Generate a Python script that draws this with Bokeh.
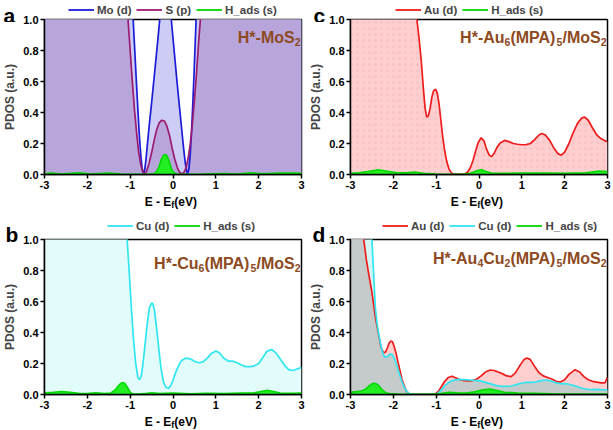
import numpy as np
from bokeh.plotting import figure
from bokeh.models import Range1d, FixedTicker, Legend, LegendItem, Label
from bokeh.layouts import column, row
from bokeh.embed import file_html
from bokeh.resources import INLINE

# ---------------- data ----------------
x_ticks = [-3, -2, -1, 0, 1, 2, 3]
y_ticks = [0.0, 0.2, 0.4, 0.6, 0.8, 1.0]

# panel a : H*-MoS2
x_mo_a = [-3.0, -1.3, -1.05, -0.93, -0.9, -0.87, -0.84, -0.81, -0.78, -0.75, -0.72, -0.69, -0.66, -0.63, -0.6,
          -0.55, -0.5, -0.45, -0.4, -0.35, -0.31, -0.24, -0.17, -0.1, -0.04, 0.0, 0.05, 0.1, 0.15, 0.2, 0.24,
          0.28, 0.31, 0.34, 0.37, 0.4, 0.43, 0.46, 0.49, 0.52, 0.55, 0.65, 1.0, 3.0]
mo_d_a = [3.0, 2.0, 1.4, 1.0, 0.84, 0.68, 0.52, 0.37, 0.23, 0.12, 0.04, 0.005, 0.03, 0.1, 0.19, 0.33, 0.46, 0.6,
          0.74, 0.88, 1.0, 1.2, 1.3, 1.2, 1.0, 0.88, 0.73, 0.58, 0.44, 0.3, 0.19, 0.09, 0.03, 0.005, 0.03, 0.12,
          0.26, 0.44, 0.64, 0.86, 1.08, 1.6, 2.2, 3.0]
x_s_a = [-3.0, -1.3, -1.1, -1.05, -1.0, -0.95, -0.9, -0.85, -0.8, -0.75, -0.7, -0.66, -0.62, -0.56, -0.5, -0.44,
         -0.38, -0.32, -0.26, -0.2, -0.14, -0.08, -0.02, 0.04, 0.1, 0.15, 0.2, 0.25, 0.3, 0.35, 0.4, 0.45, 0.5,
         0.55, 0.6, 0.64, 0.7, 1.0, 3.0]
s_p_a = [3.0, 2.0, 1.2, 1.0, 0.8, 0.6, 0.42, 0.27, 0.14, 0.06, 0.015, 0.005, 0.02, 0.07, 0.14, 0.22, 0.29, 0.335,
         0.35, 0.345, 0.31, 0.25, 0.17, 0.1, 0.045, 0.015, 0.005, 0.01, 0.04, 0.1, 0.19, 0.32, 0.48, 0.66, 0.86,
         1.0, 1.3, 2.2, 3.0]
x_h_a = [-3.0, -2.85, -2.6, -2.2, -1.9, -1.5, -1.2, -0.9, -0.6, -0.45, -0.38, -0.32, -0.27, -0.22, -0.18, -0.14,
         -0.09, -0.04, 0.02, 0.1, 0.3, 0.7, 1.2, 1.5, 1.8, 2.1, 2.5, 2.8, 3.0]
h_s_a = [0.005, 0.01, 0.004, 0.012, 0.004, 0.01, 0.004, 0.002, 0.001, 0.005, 0.02, 0.055, 0.1, 0.125, 0.13, 0.12,
         0.085, 0.04, 0.012, 0.003, 0.002, 0.003, 0.006, 0.004, 0.012, 0.005, 0.009, 0.01, 0.008]

# panel c : H*-Au6(MPA)5/MoS2
x_au_c = [-3.0, -2.0, -1.5, -1.45, -1.4, -1.35, -1.3, -1.26, -1.22, -1.18, -1.14, -1.1, -1.06, -1.01, -0.97,
          -0.93, -0.89, -0.85, -0.8, -0.75, -0.7, -0.65, -0.6, -0.5, -0.4, -0.32, -0.26, -0.2, -0.14, -0.08,
          -0.02, 0.05, 0.12, 0.18, 0.24, 0.29, 0.35, 0.42, 0.5, 0.6, 0.7, 0.8, 0.9, 1.0, 1.1, 1.2, 1.3, 1.4,
          1.47, 1.55, 1.65, 1.75, 1.85, 1.92, 2.0, 2.1, 2.2, 2.3, 2.4, 2.47, 2.55, 2.65, 2.75, 2.85, 3.0]
au_d_c = [3.0, 2.5, 1.15, 1.0, 0.88, 0.74, 0.56, 0.43, 0.37, 0.38, 0.43, 0.5, 0.54, 0.55, 0.52, 0.45, 0.35,
          0.25, 0.15, 0.08, 0.035, 0.012, 0.003, 0.0, 0.0, 0.005, 0.018, 0.045, 0.09, 0.15, 0.205, 0.237, 0.215,
          0.16, 0.125, 0.115, 0.135, 0.175, 0.205, 0.22, 0.212, 0.2, 0.195, 0.192, 0.193, 0.2, 0.225, 0.255,
          0.265, 0.255, 0.22, 0.17, 0.133, 0.125, 0.145, 0.2, 0.27, 0.33, 0.365, 0.37, 0.35, 0.3, 0.255, 0.23, 0.21]
x_h_c = [-3.0, -2.8, -2.6, -2.35, -2.1, -1.9, -1.7, -1.5, -1.3, -1.0, -0.7, -0.4, -0.2, -0.05, 0.05, 0.15, 0.3,
         0.6, 1.0, 1.5, 2.0, 2.5, 2.8, 3.0]
h_s_c = [0.008, 0.012, 0.02, 0.03, 0.02, 0.012, 0.012, 0.016, 0.008, 0.004, 0.002, 0.001, 0.008, 0.025, 0.032,
         0.022, 0.008, 0.008, 0.01, 0.01, 0.008, 0.012, 0.022, 0.02]

# panel b : H*-Cu6(MPA)5/MoS2
x_cu_b = [-3.0, -2.0, -1.2, -1.07, -1.02, -0.97, -0.92, -0.87, -0.82, -0.78, -0.74, -0.7, -0.65, -0.6, -0.55,
          -0.5, -0.47, -0.43, -0.38, -0.33, -0.28, -0.22, -0.16, -0.1, -0.05, 0.0, 0.06, 0.12, 0.2, 0.3, 0.4,
          0.5, 0.6, 0.7, 0.8, 0.9, 1.0, 1.08, 1.18, 1.3, 1.4, 1.5, 1.6, 1.7, 1.8, 1.9, 2.0, 2.1, 2.2, 2.3, 2.4,
          2.5, 2.6, 2.7, 2.8, 2.9, 3.0]
cu_d_b = [3.0, 2.5, 1.25, 1.0, 0.78, 0.55, 0.35, 0.2, 0.11, 0.095, 0.12, 0.2, 0.33, 0.46, 0.56, 0.59, 0.585,
          0.54, 0.42, 0.29, 0.17, 0.08, 0.045, 0.04, 0.06, 0.09, 0.14, 0.18, 0.22, 0.235, 0.23, 0.215, 0.205,
          0.21, 0.235, 0.265, 0.28, 0.27, 0.235, 0.215, 0.215, 0.205, 0.19, 0.18, 0.18, 0.185, 0.2, 0.24, 0.28,
          0.29, 0.27, 0.23, 0.19, 0.16, 0.155, 0.165, 0.175]
x_h_b = [-3.0, -2.8, -2.6, -2.4, -2.2, -2.0, -1.8, -1.6, -1.45, -1.35, -1.28, -1.22, -1.17, -1.12, -1.06, -1.0,
         -0.95, -0.8, -0.6, -0.5, -0.3, 0.0, 0.4, 0.8, 1.2, 1.6, 1.9, 2.05, 2.2, 2.35, 2.5, 2.8, 3.0]
h_s_b = [0.012, 0.015, 0.02, 0.015, 0.008, 0.006, 0.012, 0.006, 0.01, 0.03, 0.055, 0.072, 0.078, 0.07, 0.045,
         0.015, 0.005, 0.004, 0.008, 0.012, 0.006, 0.01, 0.005, 0.008, 0.006, 0.01, 0.012, 0.02, 0.027, 0.02,
         0.01, 0.008, 0.01]

# panel d : H*-Au4Cu2(MPA)5/MoS2
x_d = [-3.0, -2.85, -2.73, -2.69, -2.63, -2.57, -2.5, -2.46, -2.42, -2.38, -2.34, -2.3, -2.26, -2.22, -2.18,
       -2.14, -2.1, -2.06, -2.02, -1.98, -1.94, -1.9, -1.85, -1.8, -1.75, -1.7, -1.65, -1.6, -1.5, -1.3, -1.1,
       -1.02, -0.95, -0.88, -0.8, -0.72, -0.63, -0.55, -0.45, -0.35, -0.25, -0.15, -0.05, 0.05, 0.15, 0.26,
       0.35, 0.45, 0.55, 0.65, 0.75, 0.85, 0.95, 1.05, 1.12, 1.2, 1.3, 1.4, 1.5, 1.6, 1.7, 1.8, 1.9, 2.0, 2.1,
       2.24, 2.35, 2.45, 2.55, 2.65, 2.75, 2.85, 2.94, 3.0]
au_d_d = [3.0, 1.8, 1.1, 1.0, 0.87, 0.77, 0.66, 0.58, 0.5, 0.44, 0.38, 0.32, 0.285, 0.27, 0.275, 0.3, 0.33,
          0.345, 0.34, 0.31, 0.27, 0.22, 0.16, 0.1, 0.06, 0.025, 0.008, 0.002, 0.0, 0.0, 0.0, 0.004, 0.02, 0.05,
          0.085, 0.11, 0.118, 0.108, 0.095, 0.09, 0.088, 0.09, 0.1, 0.12, 0.145, 0.158, 0.155, 0.145, 0.133,
          0.12, 0.115, 0.14, 0.185, 0.225, 0.235, 0.225, 0.18, 0.14, 0.12, 0.11, 0.1, 0.085, 0.08, 0.095, 0.13,
          0.16, 0.145, 0.115, 0.095, 0.085, 0.08, 0.075, 0.075, 0.11]
cu_d_d = [3.0, 2.5, 1.9, 1.7, 1.45, 1.2, 1.0, 0.78, 0.56, 0.46, 0.39, 0.33, 0.28, 0.25, 0.24, 0.245, 0.255,
          0.262, 0.255, 0.235, 0.205, 0.17, 0.125, 0.085, 0.05, 0.025, 0.01, 0.003, 0.0, 0.0, 0.0, 0.002, 0.01,
          0.03, 0.055, 0.075, 0.088, 0.094, 0.097, 0.096, 0.094, 0.092, 0.09, 0.086, 0.078, 0.07, 0.062, 0.056,
          0.053, 0.052, 0.055, 0.062, 0.07, 0.076, 0.078, 0.078, 0.08, 0.086, 0.092, 0.093, 0.085, 0.075, 0.07,
          0.07, 0.066, 0.056, 0.045, 0.037, 0.033, 0.032, 0.033, 0.031, 0.03, 0.03]
x_h_d = [-3.0, -2.85, -2.75, -2.65, -2.57, -2.5, -2.45, -2.4, -2.33, -2.26, -2.18, -2.1, -1.9, -1.6, -1.2, -0.9,
         -0.7, -0.5, -0.3, -0.1, 0.1, 0.25, 0.4, 0.6, 0.9, 1.3, 1.7, 2.1, 2.5, 3.0]
h_s_d = [0.015, 0.02, 0.022, 0.035, 0.055, 0.068, 0.072, 0.07, 0.055, 0.03, 0.012, 0.006, 0.004, 0.002, 0.001,
         0.006, 0.015, 0.012, 0.01, 0.018, 0.03, 0.035, 0.028, 0.015, 0.01, 0.008, 0.005, 0.004, 0.003, 0.003]

# ---------------- styling ----------------
FONT = "Liberation Sans"
BLUE = "#1c1cd8"
PURPLE = "#9c1a70"
PURPLE_FILL = "#b7a5dc"
LAVENDER = "#ccccf5"
RED = "#ee1c1c"
PINK = "#ffcfcf"
CYAN = "#30e6f0"
LCYAN_B = "#e2fbfb"
LCYAN_D = "#d4f6f6"
GRAY = "#c5cbcb"
GREEN = "#00d800"
GREEN_FILL = "#22ee22"
TITLE = "#8e4a1e"

FW, FH = 258, 155
TOP, BOTTOM = 6, 18
OVER = 9   # header strips reach this far down behind the (transparent) top border of the plot

# Arial/Liberation Sans Bold advance widths (1/1000 em)
AW = {'H': 722, '*': 389, '-': 333, 'M': 833, 'o': 611, 'S': 667, 'A': 722, 'u': 611, '(': 333, ')': 333,
      'P': 667, '/': 278, 'C': 722, 'E': 667, ' ': 278, 'e': 556, 'V': 667, 'f': 333}
for d in "0123456789":
    AW[d] = 556


def tw(s, size):
    return sum(AW.get(c, 556) for c in s) / 1000.0 * size


def rich(p, segs, x, y, align, color):
    total = sum(tw(t, sz) for t, sz, dy in segs)
    cur = x - total if align == "right" else (x - total / 2 if align == "center" else x)
    for t, sz, dy in segs:
        p.add_layout(Label(x=cur, y=y + dy, x_units="screen", y_units="screen", text=t,
                           text_font=FONT, text_font_style="bold", text_font_size=f"{sz}px",
                           text_color=color, text_align="left", text_baseline="alphabetic"))
        cur += tw(t, sz)


def strip(w, h, margin=None):
    """A plain strip (no axes, no title) whose frame is the whole canvas, for texts outside the plot frame."""
    kw = {} if margin is None else {"margin": margin}
    s = figure(width=w, height=h, x_range=Range1d(-3, 3), y_range=Range1d(10, 11), x_axis_type=None,
               y_axis_type=None, output_backend="svg", toolbar_location=None, frame_align=False, title=None,
               min_border_left=0, min_border_right=0, min_border_top=0, min_border_bottom=0, **kw)
    s.outline_line_color = None
    s.border_fill_alpha = 0
    s.background_fill_alpha = 0
    return s


def make_fig(w, bl, br):
    p = figure(width=w, height=TOP + FH + BOTTOM, x_range=Range1d(-3, 3), y_range=Range1d(0, 1),
               output_backend="svg", toolbar_location=None, frame_align=False, title=None,
               min_border_left=bl, min_border_right=br, min_border_top=TOP, min_border_bottom=BOTTOM)
    p.border_fill_alpha = 0
    p.grid.visible = False
    p.outline_line_color = "black"
    p.outline_line_width = 1.5
    p.xaxis.ticker = FixedTicker(ticks=x_ticks)
    p.yaxis.ticker = FixedTicker(ticks=y_ticks)
    p.xaxis.major_label_overrides = {t: str(t) for t in x_ticks}
    p.yaxis.major_label_overrides = {t: f"{t:.1f}" for t in y_ticks}
    for ax in (p.xaxis, p.yaxis):
        ax.axis_line_width = 1.5
        ax.axis_line_color = "black"
        ax.major_tick_line_width = 1.5
        ax.major_tick_line_color = "black"
        ax.major_tick_in = 0
        ax.major_tick_out = 4
        ax.minor_tick_line_color = None
        ax.major_label_text_font = FONT
        ax.major_label_text_font_style = "bold"
        ax.major_label_text_font_size = "11px"
        ax.major_label_text_color = "black"
        ax.major_label_standoff = 2
    p.yaxis.axis_label = "PDOS (a.u.)"
    p.yaxis.axis_label_text_font = FONT
    p.yaxis.axis_label_text_font_style = "bold"
    p.yaxis.axis_label_text_font_size = "12px"
    p.yaxis.axis_label_standoff = 3
    return p


def header(w, h, letter, lx, ly, series, legx, legy):
    s = strip(w, h + OVER, margin=(0, 0, -OVER, 0))
    s.add_layout(Label(x=lx, y=ly, x_units="screen", y_units="screen", text=letter, text_font=FONT,
                       text_font_style="bold", text_font_size="21px", text_color="black",
                       text_baseline="alphabetic"))
    leg_items = []
    for lab, xs, ys, col in series:
        # same series, drawn in the strip's (empty) range so only its legend entry shows
        r = s.line(xs, ys, line_color=col, line_width=1.8)
        leg_items.append(LegendItem(label=lab, renderers=[r]))
    lg = Legend(items=leg_items, location=(legx, legy), orientation="horizontal",
                background_fill_alpha=0, border_line_color=None, padding=0, margin=0, spacing=5,
                glyph_width=26, glyph_height=13, label_height=13, label_standoff=3, label_text_font=FONT,
                label_text_font_style="bold", label_text_font_size="11.5px")
    s.add_layout(lg)
    return s


def footer(w, h, bl, base):
    s = strip(w, h)
    rich(s, [("E - E", 12, 0), ("f", 9, -3), (" (eV)", 12, 0)], bl + FW / 2, base, "center", "black")
    return s


BL1, BR1, W1 = 43, 5, 306
BL2, BR2, W2 = 43, 6, 307
H1, F1, H2, F2 = 13, 24, 17, 18

# ---------------- panel a ----------------
pa = make_fig(W1, BL1, BR1)
pa.varea(x=x_mo_a, y1=0, y2=mo_d_a, fill_color=LAVENDER)
pa.varea(x=x_s_a, y1=0, y2=s_p_a, fill_color=PURPLE_FILL)
pa.varea(x=x_h_a, y1=0, y2=h_s_a, fill_color=GREEN_FILL)
pa.line(x_mo_a, mo_d_a, line_color=BLUE, line_width=1.7)
pa.line(x_s_a, s_p_a, line_color=PURPLE, line_width=1.7)
pa.line(x_h_a, h_s_a, line_color=GREEN, line_width=1.5)
rich(pa, [("H*-MoS", 16, 0), ("2", 10.5, -4)], FW - 2, FH - 18, "right", TITLE)
ha = header(W1, H1, "a", 3, OVER - 2, [("Mo (d)", x_mo_a, mo_d_a, BLUE), ("S (p)", x_s_a, s_p_a, PURPLE),
                                       ("H_ads (s)", x_h_a, h_s_a, GREEN)], 68, OVER - 3)
fa = footer(W1, F1, BL1, F1 - 9)

# ---------------- panel c ----------------
pc = make_fig(W2, BL2, BR2)
pc.varea(x=x_au_c, y1=0, y2=au_d_c, fill_color=PINK, hatch_pattern="dot", hatch_color="#e8b0b0",
         hatch_alpha=0.35, hatch_scale=6, hatch_weight=1)
pc.varea(x=x_h_c, y1=0, y2=h_s_c, fill_color=GREEN_FILL)
pc.line(x_au_c, au_d_c, line_color=RED, line_width=1.7)
pc.line(x_h_c, h_s_c, line_color=GREEN, line_width=1.5)
rich(pc, [("H*-Au", 16, 0), ("6", 10.5, -4), ("(MPA)", 16, 0), ("5", 10.5, -4), ("/MoS", 16, 0),
          ("2", 10.5, -4)], FW - 2, FH - 18, "right", TITLE)
hc = header(W2, H1, "c", 7, OVER - 2, [("Au (d)", x_au_c, au_d_c, RED), ("H_ads (s)", x_h_c, h_s_c, GREEN)],
            89, OVER - 3)
fc = footer(W2, F1, BL2, F1 - 9)

# ---------------- panel b ----------------
pb = make_fig(W1, BL1, BR1)
pb.varea(x=x_cu_b, y1=0, y2=cu_d_b, fill_color=LCYAN_B)
pb.varea(x=x_h_b, y1=0, y2=h_s_b, fill_color=GREEN_FILL)
pb.line(x_cu_b, cu_d_b, line_color=CYAN, line_width=1.7)
pb.line(x_h_b, h_s_b, line_color=GREEN, line_width=1.5)
rich(pb, [("H*-Cu", 16, 0), ("6", 10.5, -4), ("(MPA)", 16, 0), ("5", 10.5, -4), ("/MoS", 16, 0),
          ("2", 10.5, -4)], FW - 2, FH - 24, "right", TITLE)
hb = header(W1, H2, "b", 5, OVER - 1, [("Cu (d)", x_cu_b, cu_d_b, CYAN), ("H_ads (s)", x_h_b, h_s_b, GREEN)],
            107, OVER + 1)
fb = footer(W1, F2, BL1, F2 - 9)

# ---------------- panel d ----------------
pd_ = make_fig(W2, BL2, BR2)
overlap_d = np.minimum(au_d_d, cu_d_d)
pd_.varea(x=x_d, y1=0, y2=cu_d_d, fill_color=LCYAN_D)
pd_.varea(x=x_d, y1=0, y2=au_d_d, fill_color=PINK)
pd_.varea(x=x_d, y1=0, y2=overlap_d, fill_color=GRAY)
pd_.varea(x=x_h_d, y1=0, y2=h_s_d, fill_color=GREEN_FILL)
pd_.line(x_d, au_d_d, line_color=RED, line_width=1.7)
pd_.line(x_d, cu_d_d, line_color=CYAN, line_width=1.7)
pd_.line(x_h_d, h_s_d, line_color=GREEN, line_width=1.5)
rich(pd_, [("H*-Au", 16, 0), ("4", 10.5, -4), ("Cu", 16, 0), ("2", 10.5, -4), ("(MPA)", 16, 0),
           ("5", 10.5, -4), ("/MoS", 16, 0), ("2", 10.5, -4)], FW - 2, FH - 19, "right", TITLE)
hd = header(W2, H2, "d", 6, OVER - 1, [("Au (d)", x_d, au_d_d, RED), ("Cu (d)", x_d, cu_d_d, CYAN),
                                       ("H_ads (s)", x_h_d, h_s_d, GREEN)], 76, OVER + 1)
fd = footer(W2, F2, BL2, F2 - 9)

layout = column(row(column(ha, pa, fa), column(hc, pc, fc)),
                row(column(hb, pb, fb), column(hd, pd_, fd)))
open("out.html", "w").write(file_html(layout, INLINE))
